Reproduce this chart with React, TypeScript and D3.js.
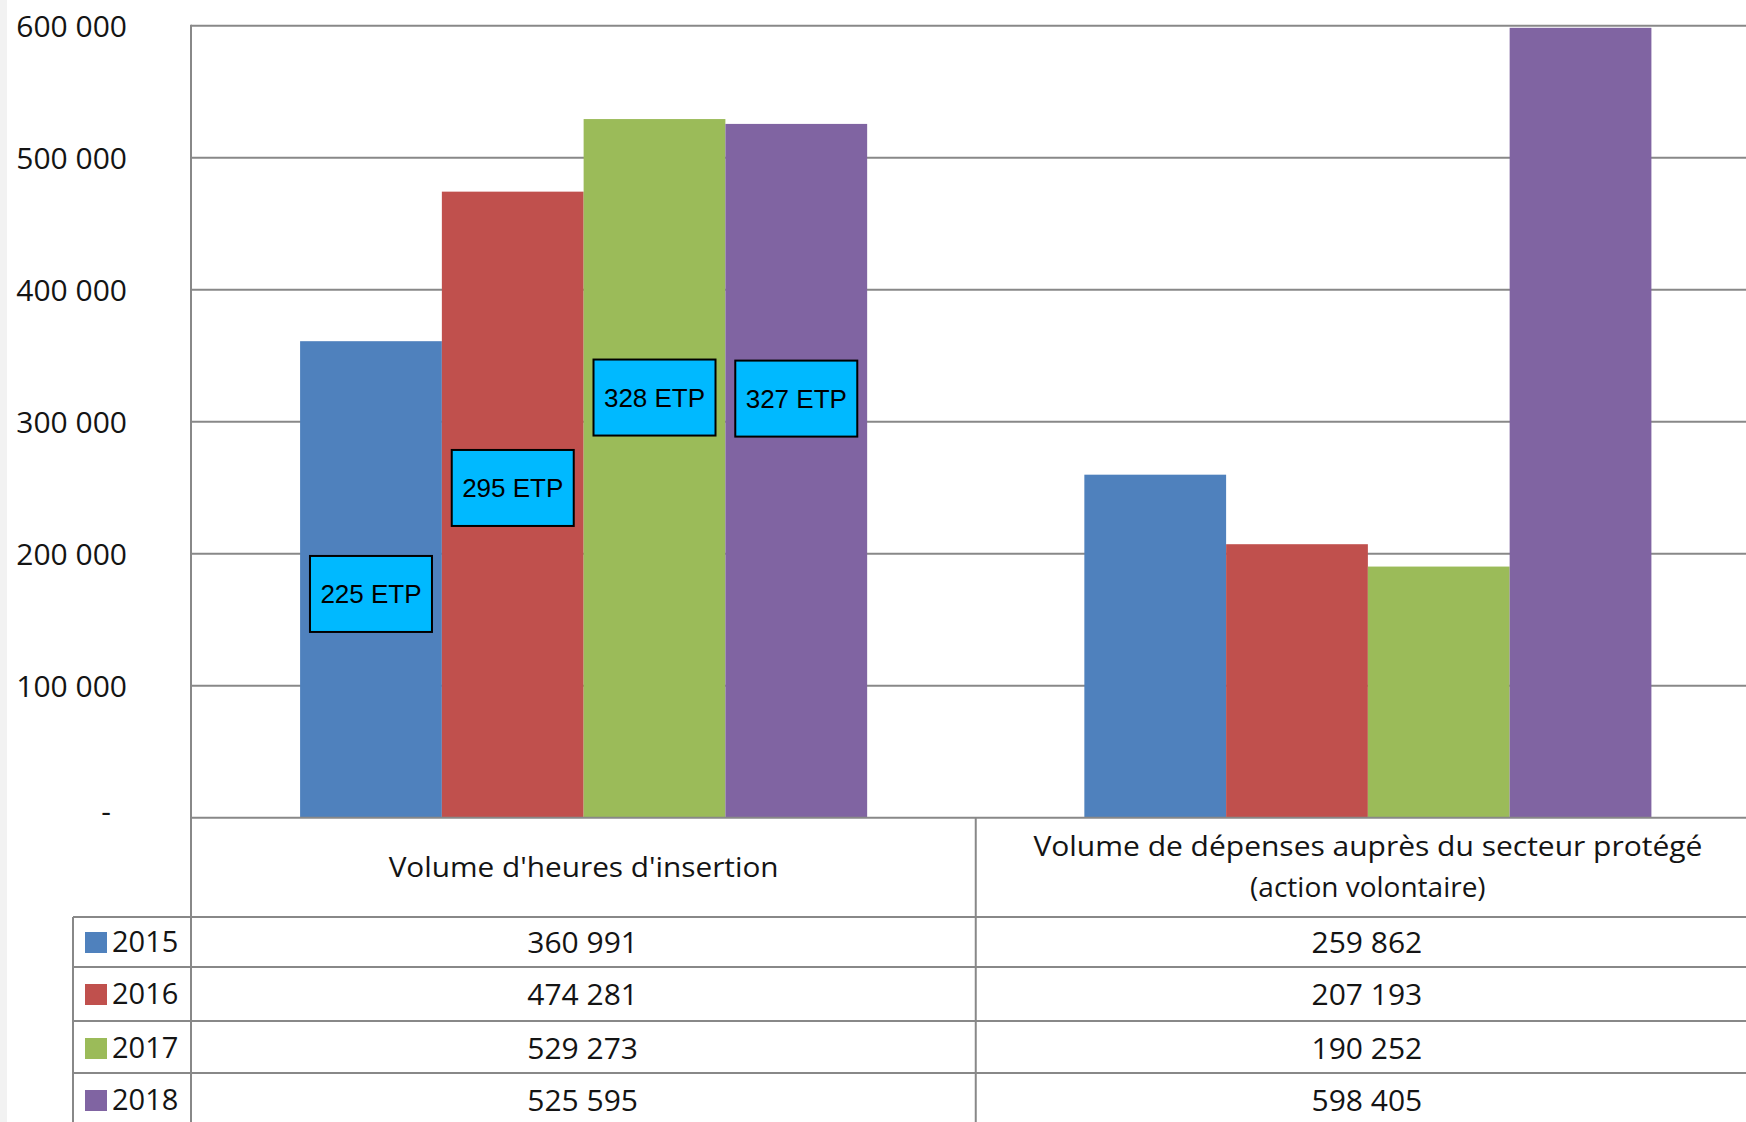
import { useEffect, useRef } from "react";
import * as d3 from "d3";

const categories = [
  "Volume d'heures d'insertion",
  "Volume de dépenses auprès du secteur protégé|(action volontaire)",
];
const years = ["2015", "2016", "2017", "2018"];
const values2015 = [360991, 259862];
const values2016 = [474281, 207193];
const values2017 = [529273, 190252];
const values2018 = [525595, 598405];
const yTicks = [0, 100000, 200000, 300000, 400000, 500000, 600000];
// ETP annotations on the first category, anchored at a value on the y scale
const etpLabels = ["225 ETP", "295 ETP", "328 ETP", "327 ETP"];
const etpAt = [169500, 249800, 318300, 317500];

const colors = ["#4F81BD", "#C0504D", "#9BBB59", "#8064A2"];
const W = 1746;
const H = 1122;

export default function App() {
  const ref = useRef(null);

  useEffect(() => {
    draw();
  });

  function draw() {
    const svg = d3.select(ref.current);
    svg.selectAll("*").remove();

    const series = [values2015, values2016, values2017, values2018];
    const fmt = (v: number) =>
      v === 0 ? "-" : d3.format(",")(v).replace(/,/g, " ");

    const plotLeft = 191;
    const plotRight = 1760;
    const grid = "#888888";
    const font = "'Open Sans', sans-serif";
    const ink = "#141414";

    svg.append("rect").attr("x", 0).attr("y", 0).attr("width", W).attr("height", H).attr("fill", "#fff");
    svg.append("rect").attr("x", 0).attr("y", 0).attr("width", 7).attr("height", H).attr("fill", "#f2f2f2");

    const y = d3.scaleLinear().domain([0, 600000]).range([817.7, 25.7]);
    const x0 = d3.scaleBand().domain(categories).range([plotLeft + 0.5, plotRight]);
    const x1 = d3
      .scaleBand()
      .domain(years)
      .range([0, x0.bandwidth()])
      .paddingInner(0)
      .paddingOuter(0.766);

    // gridlines
    svg
      .append("g")
      .selectAll("line")
      .data(yTicks.filter((t) => t > 0))
      .enter()
      .append("line")
      .attr("x1", plotLeft)
      .attr("x2", W)
      .attr("y1", (d) => y(d))
      .attr("y2", (d) => y(d))
      .attr("stroke", grid)
      .attr("stroke-width", 2);

    // bars
    years.forEach((yr, i) => {
      svg
        .append("g")
        .selectAll("rect")
        .data(series[i])
        .enter()
        .append("rect")
        .attr("x", (d, j) => x0(categories[j])! + x1(yr)!)
        .attr("y", (d) => y(d))
        .attr("width", x1.bandwidth())
        .attr("height", (d) => y(0) - y(d))
        .attr("fill", colors[i]);
    });

    // ETP boxes
    etpLabels.forEach((lab, i) => {
      const cx = x0(categories[0])! + x1(years[i])! + x1.bandwidth() / 2;
      const cy = y(etpAt[i]);
      svg
        .append("rect")
        .attr("x", cx - 61)
        .attr("y", cy - 38)
        .attr("width", 122)
        .attr("height", 76)
        .attr("fill", "#00B9FF")
        .attr("stroke", "#000")
        .attr("stroke-width", 2);
      svg
        .append("text")
        .attr("x", cx)
        .attr("y", cy)
        .attr("dy", "0.36em")
        .attr("text-anchor", "middle")
        .attr("font-family", "'Liberation Sans', Arial, sans-serif")
        .attr("font-size", 26)
        .attr("fill", "#000")
        .text(lab);
    });

    // y tick labels
    svg
      .append("g")
      .selectAll("text")
      .data(yTicks)
      .enter()
      .append("text")
      .attr("x", (d) => (d === 0 ? 111 : 127))
      .attr("y", (d) => y(d))
      .attr("dy", (d) => (d === 0 ? "0.15em" : "0.36em"))
      .attr("text-anchor", "end")
      .attr("font-family", font)
      .attr("font-size", 30)
      .attr("fill", ink)
      .text((d) => fmt(d));

    // table lines
    const rowLines = [917, 967, 1021, 1073];
    const lines = svg.append("g").attr("stroke", grid).attr("stroke-width", 2);
    lines.append("line").attr("x1", plotLeft).attr("x2", plotLeft).attr("y1", 24.7).attr("y2", H);
    lines.append("line").attr("x1", plotLeft).attr("x2", W).attr("y1", y(0)).attr("y2", y(0));
    lines.append("line").attr("x1", 73).attr("x2", 73).attr("y1", rowLines[0]).attr("y2", H);
    lines
      .append("line")
      .attr("x1", x0(categories[1])!)
      .attr("x2", x0(categories[1])!)
      .attr("y1", y(0))
      .attr("y2", H);
    rowLines.forEach((ry) => {
      lines.append("line").attr("x1", 73).attr("x2", W).attr("y1", ry).attr("y2", ry);
    });

    // header texts
    const headerW = [390, 669];
    categories.forEach((c, j) => {
      const cx = x0(c)! + x0.bandwidth() / 2;
      const parts = c.split("|");
      parts.forEach((p, k) => {
        const cy = parts.length === 1 ? 867 : 846 + k * 41;
        const t = svg
          .append("text")
          .attr("x", cx)
          .attr("y", cy)
          .attr("dy", "0.36em")
          .attr("text-anchor", "middle")
          .attr("font-family", font)
          .attr("font-size", 28)
          .attr("fill", ink)
          .text(p);
        if (k === 0) t.attr("textLength", headerW[j]).attr("lengthAdjust", "spacingAndGlyphs");
      });
    });

    // rows: legend + values
    const rowCenters = [942, 994, 1048, 1100];
    years.forEach((yr, i) => {
      const cy = rowCenters[i];
      svg
        .append("rect")
        .attr("x", 85)
        .attr("y", cy - 10)
        .attr("width", 22)
        .attr("height", 21)
        .attr("fill", colors[i]);
      svg
        .append("text")
        .attr("x", 112)
        .attr("y", cy)
        .attr("dy", "0.36em")
        .attr("font-family", font)
        .attr("font-size", 29)
        .attr("fill", ink)
        .text(yr);
      series[i].forEach((v, j) => {
        svg
          .append("text")
          .attr("x", x0(categories[j])! + x0.bandwidth() / 2 - 1)
          .attr("y", cy)
          .attr("dy", "0.36em")
          .attr("text-anchor", "middle")
          .attr("font-family", font)
          .attr("font-size", 30)
          .attr("fill", ink)
          .text(fmt(v));
      });
    });
  }

  return (
    <svg
      ref={ref}
      width={W}
      height={H}
      style={{ position: "absolute", left: 0, top: 0, display: "block" }}
    ></svg>
  );
}
